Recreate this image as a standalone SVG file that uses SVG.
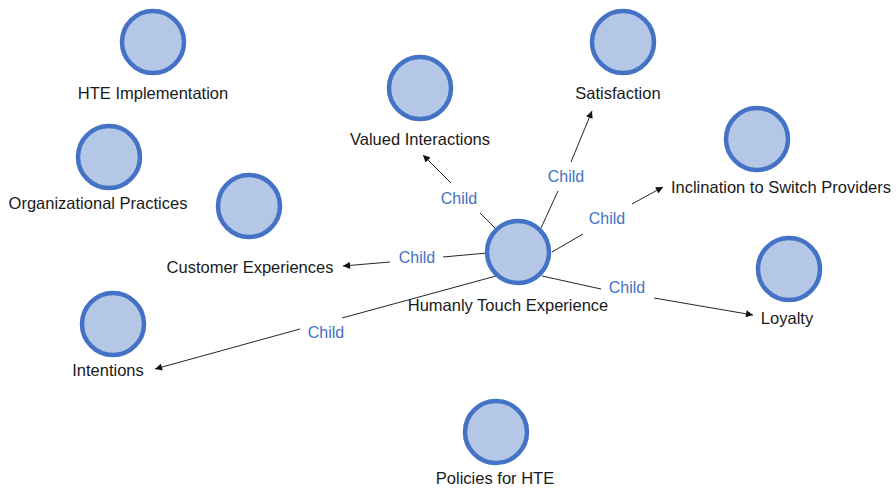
<svg xmlns="http://www.w3.org/2000/svg" width="896" height="488" viewBox="0 0 896 488">
  <style>
    .node circle { fill: #B4C7E7; stroke: #4472C4; stroke-width: 4.5; }
    .node text { font-family: "Liberation Sans", Arial, sans-serif; font-size: 16.5px; fill: #1a1a1a; text-anchor: middle; }
    .edge line { stroke: #262626; stroke-width: 1; }
    .edge text { font-family: "Liberation Sans", Arial, sans-serif; font-size: 16px; fill: #4472C4; text-anchor: middle; }
  </style>
  <defs>
    <marker id="arrow" viewBox="0 0 10 10" refX="10" refY="5" markerWidth="8" markerHeight="7" markerUnits="userSpaceOnUse" orient="auto">
      <path d="M0,0 L10,5 L0,10 z" fill="#111"/>
    </marker>
  </defs>

  <rect width="896" height="488" fill="#ffffff"/>

  <!-- connectors: each edge is split around its "Child" label -->
  <g id="connectors">
    <g class="edge" id="edge-valued">
      <line x1="496" y1="229" x2="480" y2="213"/>
      <text x="459" y="204">Child</text>
      <line x1="451" y1="183" x2="423" y2="155" marker-end="url(#arrow)"/>
    </g>
    <g class="edge" id="edge-satisfaction">
      <line x1="541" y1="228" x2="558" y2="191"/>
      <text x="566" y="182">Child</text>
      <line x1="571" y1="162" x2="592" y2="111" marker-end="url(#arrow)"/>
    </g>
    <g class="edge" id="edge-inclination">
      <line x1="552" y1="252" x2="583" y2="234"/>
      <text x="607" y="224">Child</text>
      <line x1="632" y1="204" x2="663" y2="187" marker-end="url(#arrow)"/>
    </g>
    <g class="edge" id="edge-customer">
      <line x1="487" y1="253" x2="443" y2="257"/>
      <text x="417" y="263">Child</text>
      <line x1="390" y1="262" x2="343" y2="266" marker-end="url(#arrow)"/>
    </g>
    <g class="edge" id="edge-intentions">
      <line x1="496" y1="276" x2="342" y2="318"/>
      <text x="326" y="338">Child</text>
      <line x1="300" y1="329" x2="155" y2="369" marker-end="url(#arrow)"/>
    </g>
    <g class="edge" id="edge-loyalty">
      <line x1="542" y1="276" x2="601" y2="289"/>
      <text x="627" y="293">Child</text>
      <line x1="654" y1="298" x2="753" y2="315" marker-end="url(#arrow)"/>
    </g>
  </g>

  <!-- nodes -->
  <g class="node" id="node-hte-implementation">
    <circle cx="153" cy="42" r="31"/>
    <text x="153" y="99">HTE Implementation</text>
  </g>
  <g class="node" id="node-organizational-practices">
    <circle cx="109" cy="157" r="31"/>
    <text x="98" y="209">Organizational Practices</text>
  </g>
  <g class="node" id="node-customer-experiences">
    <circle cx="249" cy="206" r="31"/>
    <text x="250" y="273">Customer Experiences</text>
  </g>
  <g class="node" id="node-intentions">
    <circle cx="113" cy="324" r="31"/>
    <text x="108" y="376">Intentions</text>
  </g>
  <g class="node" id="node-valued-interactions">
    <circle cx="420" cy="88" r="31"/>
    <text x="420" y="145">Valued Interactions</text>
  </g>
  <g class="node" id="node-satisfaction">
    <circle cx="623" cy="42" r="31"/>
    <text x="618" y="99">Satisfaction</text>
  </g>
  <g class="node" id="node-inclination">
    <circle cx="757" cy="139" r="31"/>
    <text x="781" y="193">Inclination to Switch Providers</text>
  </g>
  <g class="node" id="node-loyalty">
    <circle cx="789" cy="269" r="31"/>
    <text x="787" y="324">Loyalty</text>
  </g>
  <g class="node" id="node-humanly-touch">
    <circle cx="518" cy="252" r="31"/>
    <text x="508" y="311">Humanly Touch Experience</text>
  </g>
  <g class="node" id="node-policies">
    <circle cx="496" cy="432" r="31"/>
    <text x="495" y="484">Policies for HTE</text>
  </g>
</svg>
